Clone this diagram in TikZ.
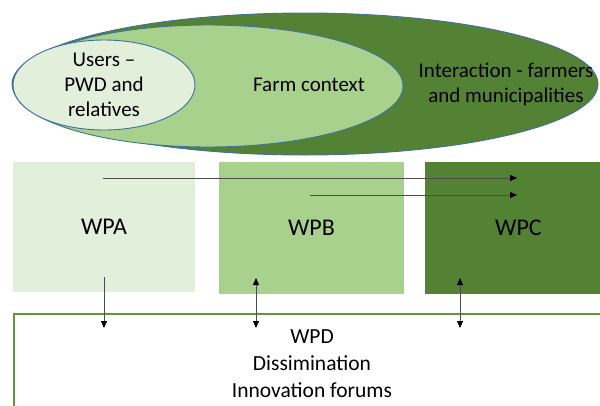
\documentclass[tikz,border=0pt]{standalone}
\usepackage{fontspec}
\setmainfont{Carlito}
\usetikzlibrary{shapes.geometric,arrows.meta}
\definecolor{lightgreen}{RGB}{226,239,218}
\definecolor{midgreen}{RGB}{169,209,142}
\definecolor{darkgreen}{RGB}{84,130,53}
\definecolor{ringblue}{RGB}{65,113,156}
\definecolor{framegreen}{RGB}{96,150,60}
\tikzset{
  ring/.style={ellipse, draw=ringblue, line width=0.9pt, inner sep=0pt},
  wpbox/.style={rectangle, inner sep=0pt, font=\fontsize{24}{29}\selectfont},
  label/.style={align=center, font=\fontsize{21}{25}\selectfont},
  arr/.style={draw=black!70, line width=0.8pt, -{Triangle[length=7pt,width=6pt,color=black]}},
  dblarr/.style={draw=black!70, line width=0.8pt, {Triangle[length=7pt,width=6pt,color=black]}-{Triangle[length=7pt,width=6pt,color=black]}}
}
\begin{document}
\begin{tikzpicture}[x=1pt, y=-1pt]
  \useasboundingbox (0,0) rectangle (600,405);
  \clip (0,0) rectangle (600,405);
  % context rings
  \node[ring, fill=darkgreen, minimum width=586pt, minimum height=142pt] (outer) at (305,84) {};
  \node[ring, fill=midgreen, minimum width=390pt, minimum height=122pt] (farm) at (208,86) {};
  \node[ring, fill=lightgreen, minimum width=182pt, minimum height=86pt, label] (users) at (104,85) {Users –\\PWD and\\relatives};
  \node[label] (farmtxt) at (309,85) {Farm context};
  \node[label] (interact) at (506,84) {Interaction - farmers\\and municipalities};
  % work packages
  \node[wpbox, fill=lightgreen, minimum width=182pt, minimum height=130pt] (wpa) at (104,227) {WPA};
  \node[wpbox, fill=midgreen, minimum width=185pt, minimum height=132pt] (wpb) at (311.5,228) {WPB};
  \node[wpbox, fill=darkgreen, minimum width=187pt, minimum height=132pt] (wpc) at (518.5,228) {WPC};
  \node[rectangle, draw=framegreen, line width=1.6pt, minimum width=620pt, minimum height=120pt, anchor=north west] (wpdbox) at (13,313) {};
  \node[label, font=\fontsize{21.5}{27}\selectfont] (wpd) at (312,364) {WPD\\Dissimination\\Innovation forums};
  % connectors
  \coordinate (a0) at (103,178);
  \coordinate (c0) at (517,178);
  \coordinate (b0) at (310,195);
  \coordinate (c1) at (517,195);
  \draw[arr] (a0) -- (c0);
  \draw[arr] (b0) -- (c1);
  \coordinate (a1) at (104,277);
  \coordinate (d1) at (104,328);
  \coordinate (b1) at (256,278);
  \coordinate (d2) at (256,328);
  \coordinate (c2) at (460,278);
  \coordinate (d3) at (460,328);
  \draw[arr] (a1) -- (d1);
  \draw[dblarr] (b1) -- (d2);
  \draw[dblarr] (c2) -- (d3);
\end{tikzpicture}
\end{document}
